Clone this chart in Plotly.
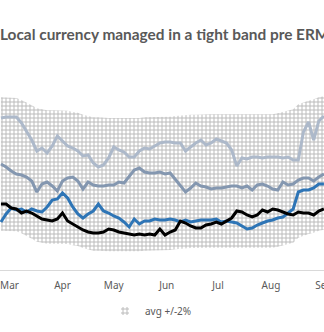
import pandas as pd
import plotly.graph_objects as go

# ---- data (deviation from central rate, basis points) ----
dates = pd.date_range("2021-02-24", periods=64, freq="3D")

light_series = [198, 201, 201, 201, 183, 159, 132, 99, 108, 93, 114, 144, 129, 114, 108, 99,
                84, 87, 63, 51, 57, 78, 111, 102, 96, 81, 81, 99, 108, 105, 114, 123,
                126, 126, 123, 123, 99, 111, 123, 132, 117, 123, 135, 129, 123, 102, 54, 78,
                75, 81, 81, 78, 81, 81, 81, 78, 81, 72, 72, 156, 186, 132, 189, 204]
medium_series = [60, 51, 39, 30, 27, 21, 9, -24, 0, 6, -6, -21, 9, 18, 21, 9,
                 -15, 6, -3, -6, -6, -3, -3, 6, 3, 21, 42, 48, 36, 33, 33, 36,
                 30, 33, 15, -3, -24, -12, 3, -6, -9, -15, -12, -12, -9, -6, -6, -12,
                 -6, -18, -3, 0, -6, -15, -18, 6, -3, 0, 12, 18, 18, 9, 21, 30]
blue_series = [-114, -90, -72, -78, -75, -84, -75, -81, -84, -69, -48, -45, -27, -42, -69, -90,
               -102, -90, -81, -60, -81, -87, -96, -102, -114, -129, -105, -120, -111, -111, -105, -108,
               -108, -105, -108, -114, -108, -114, -111, -108, -108, -108, -105, -114, -111, -114, -117, -126,
               -135, -132, -123, -117, -111, -108, -102, -99, -87, -75, -24, -18, -18, -12, 0, 0]
black_series = [-60, -60, -72, -75, -87, -81, -87, -96, -105, -108, -111, -105, -87, -111, -120, -129,
                -138, -144, -147, -147, -144, -135, -138, -144, -147, -150, -153, -150, -153, -150, -153, -135,
                -153, -144, -138, -111, -117, -126, -132, -132, -123, -120, -114, -120, -111, -102, -81, -84,
                -93, -99, -93, -78, -84, -75, -78, -84, -90, -93, -84, -87, -87, -93, -81, -75]
avg_series = [60, 60, 60, 58, 52, 45, 36, 27, 24, 21, 21, 21, 21, 20, 16, 14,
              8, 3, 0, 0, -2, -2, -2, -2, -3, -3, -2, -2, 0, 0, 0, 0,
              2, 2, 4, 6, 6, 8, 8, 9, 9, 9, 9, 9, 9, 10, 9, 8,
              8, 8, 10, 10, 9, 9, 12, 16, 20, 24, 39, 45, 50, 54, 60, 63]
band_half_width = 200  # +/- 2%

title_text = "Local currency managed in a tight band pre ERM2"
band_name = "avg +/-2%"

upper = [a + band_half_width for a in avg_series]
lower = [a - band_half_width for a in avg_series]

x_start = pd.Timestamp("2021-02-23 10:30")
x_end = pd.Timestamp("2021-09-01 01:00")

GRID = "#bcbcbc"

fig = go.Figure()
fig.add_trace(go.Scatter(x=dates, y=upper, mode="lines", line=dict(width=0, color=GRID),
                         showlegend=False, hoverinfo="skip", legendgroup="band"))
fig.add_trace(go.Scatter(x=dates, y=lower, mode="lines", line=dict(width=0, color=GRID),
                         fill="tonexty", fillcolor="rgba(255,255,255,0)",
                         fillpattern=dict(shape="+", size=4, solidity=0.44,
                                          fgcolor=GRID, bgcolor="rgba(255,255,255,0)",
                                          fillmode="replace"),
                         name=band_name, showlegend=False, legendgroup="band"))
# legend key for the band (small grid glyph, as in the original)
fig.add_trace(go.Scatter(x=[None], y=[None], mode="markers", name=band_name,
                         legendgroup="band",
                         marker=dict(symbol="hash-open", size=8, color=GRID,
                                     line=dict(width=1, color=GRID))))
line_specs = [("Series A", light_series, "#adb9ca"),
              ("Series B", medium_series, "#8497b0"),
              ("Series C", blue_series, "#2e75b6"),
              ("Series D", black_series, "#000000")]
for nm, ys, col in line_specs:
    fig.add_trace(go.Scatter(x=dates, y=ys, mode="lines", name=nm,
                             line=dict(color=col, width=3), showlegend=False))

fig.update_layout(
    width=324, height=332,
    margin=dict(l=0, r=0, t=60, b=62),
    paper_bgcolor="white", plot_bgcolor="white",
    title=dict(text=title_text, x=0.0, xref="container", xanchor="left",
               y=1 - 35 / 332, yref="container", yanchor="middle",
               font=dict(family="Lato", size=15.4, color="#595959", weight="bold")),
    xaxis=dict(type="date", range=[x_start, x_end],
               showgrid=False, zeroline=False,
               showline=True, linecolor="#d9d9d9", linewidth=1,
               tickformat="%b", dtick="M1", ticks="", ticklabelstandoff=6,
               ticklabeloverflow="allow", automargin=False,
               tickfont=dict(family="Noto Sans", size=10, color="#595959")),
    yaxis=dict(range=[-258, 372], visible=False,
               showgrid=False, zeroline=False, automargin=False),
    showlegend=True,
    legend=dict(orientation="h", xref="container", yref="container",
                x=105 / 324, xanchor="left", y=1 - 311 / 332, yanchor="middle",
                font=dict(family="Noto Sans", size=10, color="#595959"),
                bgcolor="rgba(0,0,0,0)"),
)

fig.write_html("out.html")
